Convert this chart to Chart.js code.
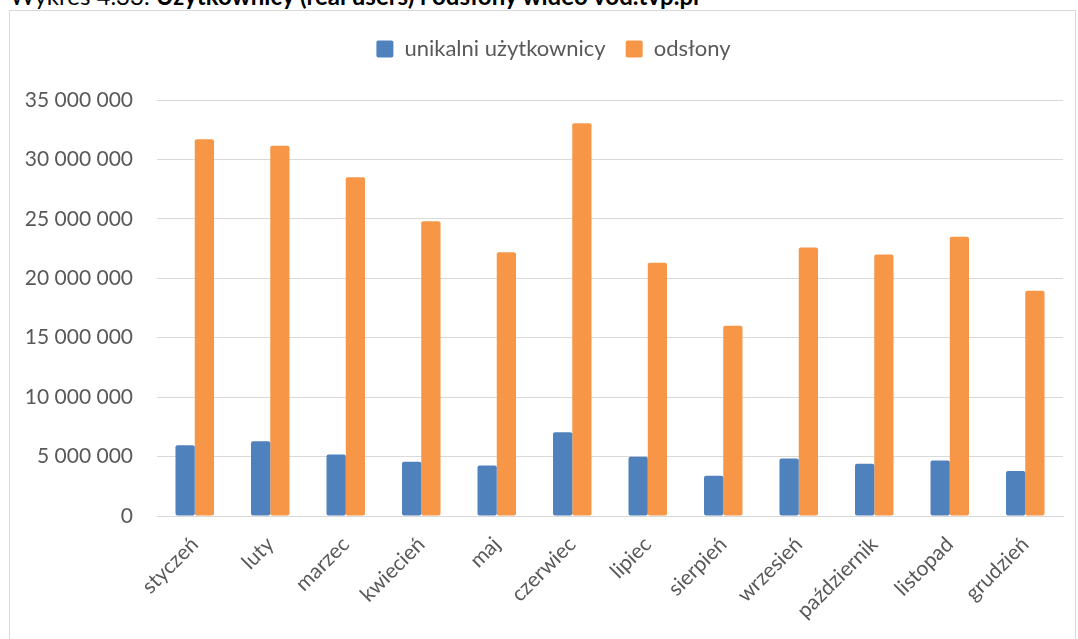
<!DOCTYPE html>
<html>
<head>
<meta charset="utf-8">
<script src="https://cdn.jsdelivr.net/npm/chart.js@4.4.1/dist/chart.umd.min.js"></script>
<style>
  html, body { margin: 0; padding: 0; background: #fff; overflow: hidden; }
  body { width: 1078px; height: 639px; position: relative; }
  #title { position: absolute; left: 10px; top: -19px; font-family: Lato, "Open Sans", sans-serif; font-size: 24px; line-height: 30px; color: #000; white-space: nowrap; }
  #title b { font-weight: 700; }
  #frame { position: absolute; left: 9px; top: 10px; width: 1067px; height: 640px; border: 1px solid #d9d9d9; box-sizing: border-box; background: #fff; }
  #wrap { position: absolute; left: 10px; top: 11px; width: 1066px; height: 628px; }
</style>
</head>
<body>
<div id="title">Wykres 4.33. <b>Użytkownicy (real users) i odsłony wideo vod.tvp.pl</b></div>
<div id="frame"></div>
<div id="wrap"><canvas id="c"></canvas></div>
<script>
const categories = ["styczeń","luty","marzec","kwiecień","maj","czerwiec","lipiec","sierpień","wrzesień","październik","listopad","grudzień"];
const seriesNames = ["unikalni użytkownicy","odsłony"];
const uniqueUsers = [5950000,6290000,5180000,4560000,4250000,7050000,4980000,3390000,4840000,4390000,4670000,3780000];
const pageViews = [31700000,31150000,28500000,24800000,22200000,33050000,21300000,16000000,22600000,22000000,23500000,18950000];
const yTicks = [0,5000000,10000000,15000000,20000000,25000000,30000000,35000000];

const fontFamily = 'Lato, "Open Sans", sans-serif';
const fmt = v => String(Math.round(v)).replace(/\B(?=(\d{3})+(?!\d))/g, ' ');

// spacer box placed between the legend and the plot area; also nudges the legend right
const spacerPlugin = {
  id: 'legendSpacer',
  beforeInit(chart) {
    const box = {
      position: 'top', weight: 1, fullSize: true, options: {},
      left: 0, top: 0, right: 0, bottom: 0, width: 0, height: 0,
      isHorizontal() { return true; },
      update(maxWidth) { this.width = maxWidth; this.height = 30; },
      draw() {}
    };
    Chart.layouts.addBox(chart, box);
  },
  afterLayout(chart) {
    if (chart.legend) { chart.legend.left += 17; chart.legend.right += 17; }
  }
};

new Chart(document.getElementById('c'), {
  type: 'bar',
  data: {
    labels: categories,
    datasets: [
      { label: seriesNames[0], data: uniqueUsers, backgroundColor: '#4F81BD', borderRadius: 2, borderSkipped: false, categoryPercentage: 0.51, barPercentage: 1.0 },
      { label: seriesNames[1], data: pageViews, backgroundColor: '#F79646', borderRadius: 2, borderSkipped: false, categoryPercentage: 0.51, barPercentage: 1.0 }
    ]
  },
  plugins: [spacerPlugin],
  options: {
    responsive: true,
    maintainAspectRatio: false,
    animation: false,
    layout: { padding: { top: 7, right: 13, left: 0, bottom: 0 } },
    plugins: {
      legend: {
        position: 'top',
        labels: {
          font: { family: fontFamily, size: 22 },
          color: '#595959',
          boxWidth: 17, boxHeight: 17,
          useBorderRadius: true, borderRadius: 2,
          padding: 20
        }
      },
      tooltip: { enabled: false }
    },
    scales: {
      x: {
        grid: { display: false, drawTicks: false },
        border: { display: true, color: '#d9d9d9', width: 1 },
        ticks: { color: '#595959', font: { family: fontFamily, size: 21 }, maxRotation: 45, minRotation: 45, autoSkip: false, padding: 16 },
        afterFit: s => { s.height = 123; }
      },
      y: {
        min: 0, max: 35000000,
        afterBuildTicks: s => { s.ticks = yTicks.map(v => ({ value: v })); },
        grid: { color: '#d9d9d9', lineWidth: 1, drawTicks: false },
        border: { display: false },
        ticks: { color: '#595959', font: { family: fontFamily, size: 21 }, padding: 24, callback: v => fmt(v) },
        afterFit: s => { s.width = 147; }
      }
    }
  }
});
</script>
</body>
</html>
